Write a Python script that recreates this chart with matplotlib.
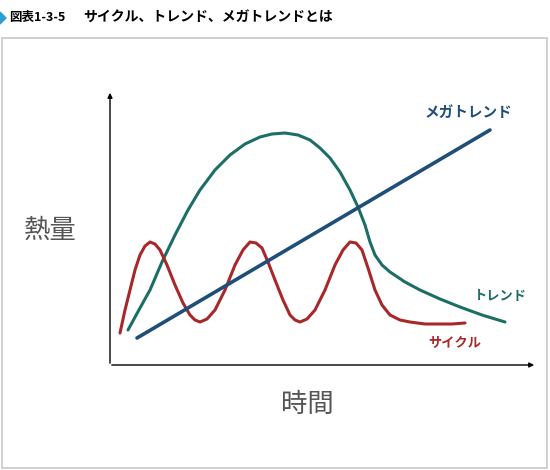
"""Cycle, trend and mega-trend concept chart."""

import matplotlib
matplotlib.use("Agg")
from matplotlib import pyplot as plt
from matplotlib.patches import Rectangle, Polygon

plt.rcParams['font.family'] = ['Noto Sans CJK JP', 'DejaVu Sans']

# curves (pixel space, y grows downward)
MEGA_X = [137, 490]
MEGA_Y = [338, 130]

TREND_X = [128, 140, 150, 162, 175, 188, 200, 215, 230, 245, 260, 272, 285, 298,
           310, 320, 330, 340, 350, 358, 365, 370, 375, 382, 390, 405, 420, 440,
           460, 482, 505]
TREND_Y = [330, 308, 290, 262, 235, 210, 190, 170, 155, 144, 137, 134, 133, 135,
           140, 148, 158, 172, 190, 207, 225, 242, 255, 265, 272, 282, 290, 299,
           307, 315, 322]

CYCLE_X = [120, 125, 130, 135, 140, 145, 150, 155, 160, 167, 175, 183, 190, 195,
           200, 207, 215, 225, 235, 243, 250, 256, 262, 268, 275, 283, 290, 295,
           300, 307, 315, 325, 335, 343, 350, 356, 362, 368, 375, 382, 390, 400,
           410, 425, 440, 452, 465]
CYCLE_Y = [333, 310, 290, 270, 255, 246, 242, 244, 250, 265, 285, 303, 315, 320,
           322, 319, 310, 290, 265, 250, 242, 243, 248, 262, 280, 300, 315, 320,
           322, 319, 310, 290, 265, 250, 242, 243, 250, 268, 290, 305, 315, 320,
           322, 324, 324, 324, 323]

BLUE = "#1f4e79"
GREEN = "#1c6e66"
RED = "#a8282a"

fig = plt.figure(figsize=(5.5, 4.7), dpi=100)
ax = fig.add_axes([0, 0, 1, 1])
ax.set_xlim(0, 550)
ax.set_ylim(470, 0)
ax.axis("off")

# header and frame
ax.add_patch(Polygon([[0, 12], [0, 24], [6, 18]], closed=True, color="#2a9fd6"))
ax.text(9, 18, "図表1-3-5", fontsize=9, fontweight="bold", va="center")
ax.text(83, 18, "サイクル、トレンド、メガトレンドとは", fontsize=10, fontweight="bold",
        va="center")
ax.add_patch(Rectangle((2, 38), 545, 430, fill=False, ec="#c8c8c8", lw=1.2))

# axes arrows
ax.annotate("", xy=(110, 90), xytext=(110, 366),
            arrowprops=dict(arrowstyle="-|>", color="black", lw=1, mutation_scale=7))
ax.annotate("", xy=(537, 365), xytext=(109, 365),
            arrowprops=dict(arrowstyle="-|>", color="black", lw=1, mutation_scale=7))

ax.plot(TREND_X, TREND_Y, color=GREEN, lw=2.2, solid_capstyle="round")
ax.plot(CYCLE_X, CYCLE_Y, color=RED, lw=2.2, solid_capstyle="round")
ax.plot(MEGA_X, MEGA_Y, color=BLUE, lw=2.6, solid_capstyle="round")

ax.text(468, 112, "メガトレンド", color=BLUE, fontsize=10.5, fontweight="bold",
        ha="center", va="center")
ax.text(500, 296, "トレンド", color=GREEN, fontsize=9.5, fontweight="bold",
        ha="center", va="center")
ax.text(455, 342, "サイクル", color=RED, fontsize=9.5, fontweight="bold",
        ha="center", va="center")
ax.text(50, 230, "熱量", color="#555555", fontsize=19, ha="center", va="center")
ax.text(307, 404, "時間", color="#555555", fontsize=19, ha="center", va="center")

fig.savefig("out.png", dpi=100)
